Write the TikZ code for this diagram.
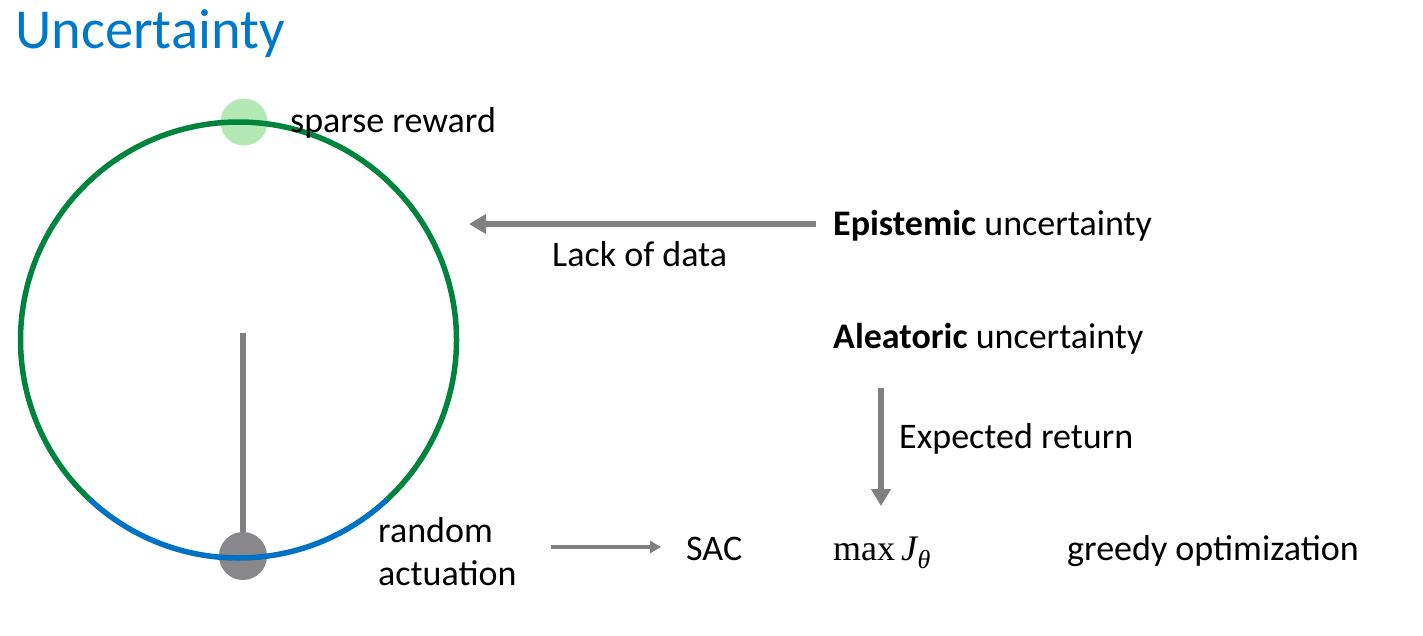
\documentclass[tikz,border=0pt]{standalone}
\usepackage{fontspec}
\setmainfont{Carlito}
\newfontfamily\mathlike{Liberation Serif}
\usetikzlibrary{arrows.meta}
\definecolor{titleblue}{RGB}{0,120,200}
\definecolor{ringgreen}{RGB}{0,132,61}
\definecolor{arcblue}{RGB}{0,114,198}
\definecolor{arrowgray}{RGB}{128,128,128}
\definecolor{bobgray}{RGB}{136,136,139}
\definecolor{rewardgreen}{RGB}{180,232,180}
\tikzset{
  txt/.style={inner sep=0pt, anchor=base west, font=\fontsize{36}{43}\selectfont},
  bigarrow/.style={draw=arrowgray, line width=6pt, -{Triangle[length=17pt,width=19pt]}},
  smallarrow/.style={draw=arrowgray, line width=3.5pt, -{Triangle[length=11pt,width=12pt]}},
}
\begin{document}
\begin{tikzpicture}[x=1pt,y=-1pt]
\useasboundingbox (0,0) rectangle (1423,635);
% title
\node[inner sep=0pt, anchor=base west, text=titleblue, font=\fontsize{56.5}{62}\selectfont] (title) at (15,48) {Uncertainty};
% ring
\coordinate (c) at (238.5,340);
\node[circle, fill=rewardgreen, minimum size=47pt, inner sep=0pt] (reward) at (244,122) {};
\draw[ringgreen, line width=5.5pt] (c) ++(133:218) arc[start angle=133, end angle=407, radius=218];
% pendulum
\coordinate (pivot) at (243,333);
\node[circle, fill=bobgray, minimum size=48pt, inner sep=0pt] (bob) at (243,556) {};
\draw[arrowgray, line width=6.5pt] (pivot) -- (bob.north);
\draw[arcblue, line width=5.5pt] (c) ++(47:218) arc[start angle=47, end angle=133, radius=218];
% texts
\node[txt] (sparse) at (290,132) {sparse reward};
\node[txt] (epi) at (833,235) {\textbf{Epistemic} uncertainty};
\node[txt] (lack) at (552,266) {Lack of data};
\node[txt] (alea) at (833,348) {\textbf{Aleatoric} uncertainty};
\node[txt] (exp) at (899,448) {Expected return};
\node[txt] (random) at (378,542) {random};
\node[txt] (actu) at (378,585) {actuation};
\node[txt] (sac) at (686,560) {SAC};
\node[txt] (maxj) at (833,560) {\mathlike max\kern6pt\textit{J}\kern-1pt\raisebox{-8pt}{\fontsize{26}{30}\selectfont\textit{θ}}};
\node[txt] (greedy) at (1067,560) {greedy optimization};
% arrows
\coordinate (epistart) at (816,224);
\coordinate (epiend) at (469,224);
\draw[bigarrow] (epistart) -- (epiend);
\coordinate (downstart) at (881,388);
\coordinate (downend) at (881,506);
\draw[bigarrow] (downstart) -- (downend);
\coordinate (smallstart) at (551,547);
\coordinate (smallend) at (661,547);
\draw[smallarrow] (smallstart) -- (smallend);
\end{tikzpicture}
\end{document}
